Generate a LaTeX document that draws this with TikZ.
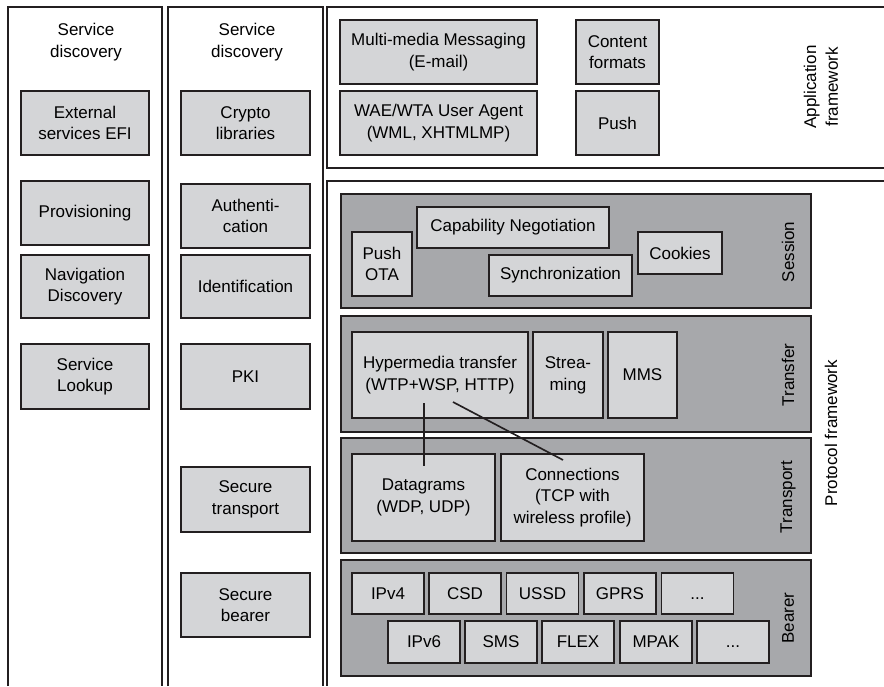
\documentclass[tikz,border=0pt]{standalone}
\usepackage{fontspec}
\setmainfont{Liberation Sans}

\definecolor{boxgray}{RGB}{212,213,215}
\definecolor{bandgray}{RGB}{167,168,171}
\definecolor{edge}{RGB}{35,31,32}

\tikzset{
  frame/.style={draw=edge, line width=1.4pt},
  band/.style={draw=edge, line width=1.4pt, fill=bandgray},
  blk/.style={draw=edge, line width=1.4pt, fill=boxgray, inner sep=0pt,
    align=center, font=\fontsize{14.5}{18.5}\selectfont},
  sz/.style 2 args={minimum width=#1*0.03cm, minimum height=#2*0.03cm},
  lbl/.style={align=center, font=\fontsize{14.5}{18.5}\selectfont},
  vlbl/.style={lbl, rotate=90},
  link/.style={draw=edge, line width=1.4pt},
}

\begin{document}
\begin{tikzpicture}[x=0.03cm, y=-0.03cm]
    \useasboundingbox (0,0) rectangle (884,686);

    % Columns and frames
    \draw[frame] (8,686) -- (8,7) -- (162,7) -- (162,686);
    \draw[frame] (168,686) -- (168,7) -- (323,7) -- (323,686);
    \draw[frame] (884,7) -- (327,7) -- (327,168) -- (884,168);
    \draw[frame] (884,181) -- (327,181) -- (327,686);

    % Layer bands
    \draw[band] (341,194) rectangle (811,308);
    \draw[band] (341,316) rectangle (811,432);
    \draw[band] (341,438) rectangle (811,553);
    \draw[band] (341,560) rectangle (811,676);

    % Left column
    \node[lbl] (sd1) at (86,42) {Service\\discovery};
    \node[blk, sz={128}{64}] (efi) at (85,123) {External\\services EFI};
    \node[blk, sz={128}{64}] (prov) at (85,213) {Provisioning};
    \node[blk, sz={128}{63}] (navi) at (85,286.5) {Navigation\\Discovery};
    \node[blk, sz={128}{65}] (look) at (85,376.5) {Service\\Lookup};

    % Second column
    \node[lbl] (sd2) at (247,42) {Service\\discovery};
    \node[blk, sz={129}{64}] (crypto) at (245.5,123) {Crypto\\libraries};
    \node[blk, sz={129}{64}] (auth) at (245.5,216) {Authenti-\\cation};
    \node[blk, sz={129}{63}] (ident) at (245.5,286.5) {Identification};
    \node[blk, sz={129}{65}] (pki) at (245.5,376.5) {PKI};
    \node[blk, sz={129}{65}] (stran) at (245.5,499.5) {Secure\\transport};
    \node[blk, sz={129}{64}] (sbear) at (245.5,605) {Secure\\bearer};

    % Application framework
    \node[blk, sz={197}{64}] (mms1) at (438.5,52) {Multi-media Messaging\\(E-mail)};
    \node[blk, sz={197}{64}] (wae) at (438.5,123) {WAE/WTA User Agent\\(WML, XHTMLMP)};
    \node[blk, sz={83}{64}] (cont) at (617.5,52) {Content\\formats};
    \node[blk, sz={83}{64}] (push) at (617.5,123) {Push};
    \node[vlbl] (appfw) at (821,87) {Application\\framework};

    % Session
    \node[blk, sz={60}{64}] (pota) at (382,264) {Push\\OTA};
    \node[blk, sz={192}{41}] (capneg) at (513,227.5) {Capability Negotiation};
    \node[blk, sz={143}{41}] (sync) at (560.5,275.5) {Synchronization};
    \node[blk, sz={84}{42}] (cook) at (680,253) {Cookies};
    \node[vlbl] (sess) at (788,252) {Session};

    % Transfer
    \node[blk, sz={176}{86}] (hyper) at (440,375) {Hypermedia transfer\\(WTP+WSP, HTTP)};
    \node[blk, sz={70}{86}] (strm) at (568,375) {Strea-\\ming};
    \node[blk, sz={69}{86}] (mms2) at (642.5,375) {MMS};
    \node[vlbl] (trf) at (788,375) {Transfer};

    % Transport
    \node[blk, sz={143}{87}] (dgram) at (423.5,497.5) {Datagrams\\(WDP, UDP)};
    \node[blk, sz={143}{87}] (conn) at (572.5,497.5) {Connections\\(TCP with\\wireless profile)};
    \node[vlbl] (trp) at (788,497) {Transport};

    % Bearer
    \node[blk, sz={72}{41}] (ipv4) at (388,593.5) {IPv4};
    \node[blk, sz={72}{41}] (csd) at (465,593.5) {CSD};
    \node[blk, sz={72}{41}] (ussd) at (542.5,593.5) {USSD};
    \node[blk, sz={72}{41}] (gprs) at (620,593.5) {GPRS};
    \node[blk, sz={72}{41}] (more1) at (697.5,593.5) {\vphantom{IPv4}...};
    \node[blk, sz={72}{42}] (ipv6) at (424,642) {IPv6};
    \node[blk, sz={72}{42}] (sms) at (501,642) {SMS};
    \node[blk, sz={72}{42}] (flex) at (578,642) {FLEX};
    \node[blk, sz={72}{42}] (mpak) at (656,642) {MPAK};
    \node[blk, sz={72}{42}] (more2) at (733,642) {\vphantom{IPv4}...};
    \node[vlbl] (bear) at (788,618) {Bearer};

    \node[vlbl] (protfw) at (831,433) {Protocol framework};

    % Links from transfer to transport
    \coordinate (hy1) at (424,403);
    \coordinate (dg1) at (424,466);
    \coordinate (hy2) at (453,402);
    \coordinate (cn1) at (563,460);
    \draw[link] (hy1) -- (dg1);
    \draw[link] (hy2) -- (cn1);
\end{tikzpicture}
\end{document}
